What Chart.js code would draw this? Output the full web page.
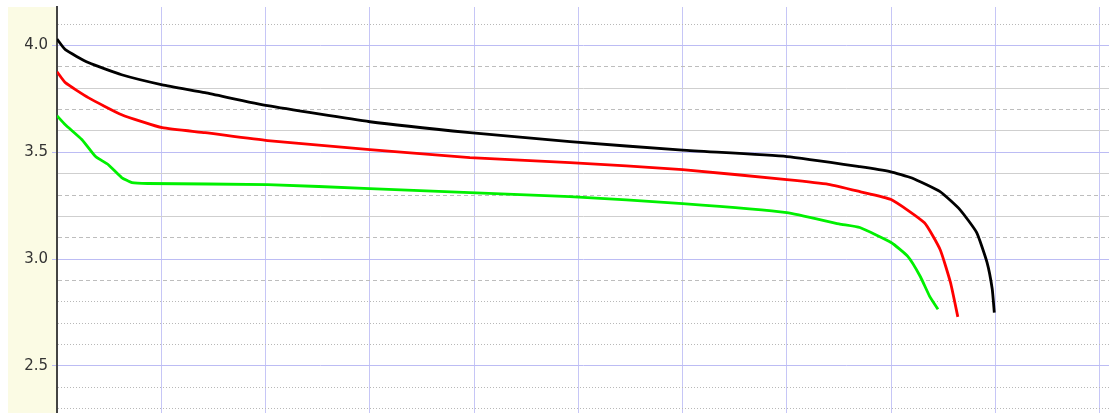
<!DOCTYPE html>
<html>
<head>
<meta charset="utf-8">
<script src="https://cdn.jsdelivr.net/npm/chart.js@4"></script>
<style>
  body { margin: 0; background: #fff; }
</style>
</head>
<body>
<canvas id="myChart" width="1109" height="413"></canvas>
<script>
// Discharge curves: x = capacity (grid units), y = voltage
var blackX = [0, 0.08, 0.3, 0.62, 1.01, 1.42, 2.02, 3.0, 3.96, 4.92, 6.0, 7.0, 7.7, 7.99, 8.2, 8.47, 8.66, 8.82, 8.92, 8.97, 8.99];
var blackY = [4.03, 3.98, 3.92, 3.863, 3.816, 3.779, 3.718, 3.643, 3.592, 3.55, 3.51, 3.48, 3.433, 3.41, 3.38, 3.316, 3.232, 3.125, 2.985, 2.86, 2.75];

var redX = [0, 0.08, 0.3, 0.62, 1.01, 1.42, 2.02, 3.0, 3.96, 4.92, 6.0, 7.0, 7.4, 7.7, 8.0, 8.32, 8.47, 8.57, 8.64];
var redY = [3.877, 3.826, 3.756, 3.676, 3.615, 3.592, 3.555, 3.513, 3.475, 3.452, 3.419, 3.372, 3.35, 3.316, 3.279, 3.17, 3.045, 2.89, 2.73];

var greenX = [0, 0.08, 0.24, 0.37, 0.49, 0.62, 0.72, 0.87, 2.02, 3.0, 3.96, 4.92, 6.0, 7.0, 7.5, 7.7, 8.0, 8.16, 8.28, 8.37, 8.45];
var greenY = [3.671, 3.629, 3.559, 3.48, 3.443, 3.382, 3.358, 3.354, 3.349, 3.33, 3.311, 3.293, 3.26, 3.218, 3.165, 3.148, 3.078, 3.013, 2.919, 2.826, 2.765];

// y tick values in tenths of a volt
var yTicks = [23, 24, 25, 26, 27, 28, 29, 30, 31, 32, 33, 34, 35, 36, 37, 38, 39, 40, 41];
var xTicks = [0, 1, 2, 3, 4, 5, 6, 7, 8, 9, 10];

function pts(xs, ys) {
    return xs.map(function (x, i) { return { x: x, y: ys[i] }; });
}

// grid line style for each y tick
var dotted = [24, 26, 27, 28, 41, 23];
var dashed = [29, 31, 33, 37, 39];
function tenth(ctx) { return ctx.tick ? Math.round(ctx.tick.value * 10) : null; }
function isMajor(t) { return t !== null && t % 5 === 0; }

var labelBg = {
    id: 'labelBg',
    beforeDraw: function (chart) {
        var a = chart.chartArea, c = chart.ctx;
        c.save();
        c.fillStyle = '#fbfbe4';
        c.fillRect(8, a.top, a.left - 8, a.bottom - a.top);
        c.restore();
    }
};

var ctx = document.getElementById('myChart').getContext('2d');
var myChart = new Chart(ctx, {
    type: 'scatter',
    data: {
        datasets: [
            { data: pts(blackX, blackY), borderColor: '#000000' },
            { data: pts(redX, redY), borderColor: '#ff0000' },
            { data: pts(greenX, greenY), borderColor: '#00f000' }
        ]
    },
    options: {
        responsive: false,
        animation: false,
        showLine: true,
        layout: { padding: { top: 7, left: 0, right: 0, bottom: 0 } },
        elements: {
            point: { radius: 0 },
            line: { borderWidth: 2.8, tension: 0.15 }
        },
        plugins: { legend: { display: false }, tooltip: { enabled: false } },
        scales: {
            x: {
                type: 'linear',
                min: 0,
                max: 10.09,
                afterBuildTicks: function (s) { s.ticks = xTicks.map(function (v) { return { value: v }; }); },
                afterFit: function (s) { s.height = 0; s.paddingLeft = 0; s.paddingRight = 0; },
                ticks: { display: false },
                grid: {
                    drawTicks: false,
                    color: function (c) { return c.tick && c.tick.value === 0 ? 'rgba(0,0,0,0)' : '#c6c6f6'; }
                },
                border: { display: false }
            },
            y: {
                min: 2.28,
                max: 4.18,
                afterBuildTicks: function (s) { s.ticks = yTicks.map(function (v) { return { value: v / 10 }; }); },
                afterFit: function (s) { s.width = 57; s.paddingTop = 0; s.paddingBottom = 0; },
                ticks: {
                    padding: 4,
                    color: '#333',
                    font: { family: 'DejaVu Sans', size: 15 },
                    callback: function (v) {
                        var t = Math.round(v * 10);
                        return t % 5 === 0 ? (t / 10).toFixed(1) : '';
                    }
                },
                grid: {
                    tickLength: 5,
                    lineWidth: 1,
                    color: function (c) {
                        var t = tenth(c);
                        if (isMajor(t)) return '#bcbcf4';
                        if (dotted.indexOf(t) >= 0) return '#b8b8b8';
                        if (dashed.indexOf(t) >= 0) return '#bdbdbd';
                        return '#cfcfcf';
                    },
                    tickColor: function (c) { return isMajor(tenth(c)) ? '#bcbcf4' : 'rgba(0,0,0,0)'; }
                },
                border: {
                    color: '#444',
                    width: 2,
                    dash: function (c) {
                        var t = tenth(c);
                        if (t === null || isMajor(t)) return [];
                        if (dotted.indexOf(t) >= 0) return [1, 2];
                        if (dashed.indexOf(t) >= 0) return [4, 3];
                        return [];
                    }
                }
            }
        }
    },
    plugins: [labelBg]
});
</script>
</body>
</html>
